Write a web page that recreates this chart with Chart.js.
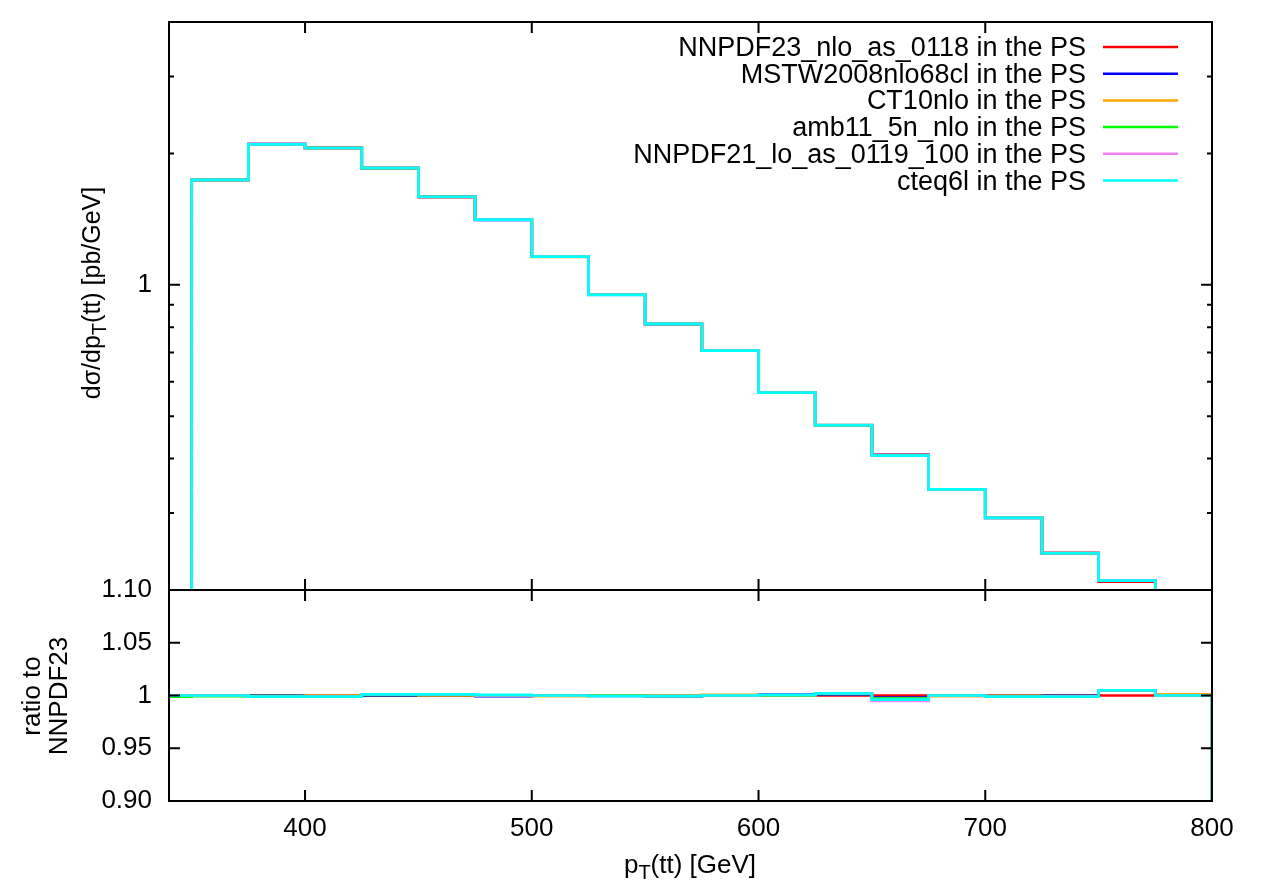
<!DOCTYPE html>
<html>
<head>
<meta charset="utf-8">
<script src="https://cdn.jsdelivr.net/npm/chart.js@4/dist/chart.umd.min.js"></script>
<style>
  html, body { margin: 0; padding: 0; background: #fff; }
  #wrap { position: relative; width: 1263px; height: 887px; }
  #wrap canvas { position: absolute; left: 0; top: 0; }
</style>
</head>
<body>
<div id="wrap">
  <canvas id="upper" width="1263" height="887"></canvas>
  <canvas id="lower" width="1263" height="887"></canvas>
</div>
<script>
// 25 GeV bins in pT(tt), low edges
const binLow = [325, 350, 375, 400, 425, 450, 475, 500, 525, 550, 575, 600, 625, 650, 675, 700, 725, 750, 775];
const binWidth = 25;

// reference cross section (NNPDF23 in the PS), pb/GeV
const xsecNNPDF23 = [0, 1.74, 2.10, 2.06, 1.85, 1.59, 1.41, 1.16, 0.949, 0.814, 0.707, 0.566, 0.476, 0.408, 0.340, 0.293, 0.243, 0.209, 0.17];

// ratio of each PDF set to NNPDF23
const ratioNNPDF23 = [1, 1, 1, 1, 1, 1, 1, 1, 1, 1, 1, 1, 1, 1, 1, 1, 1, 1, 1];
const ratioMSTW = [1.000, 1.000, 1.000, 0.9995, 1.000, 1.000, 0.9995, 1.000, 1.000, 0.999, 1.000, 1.001, 1.001, 0.998, 1.000, 0.999, 1.000, 1.005, 1.000];
const ratioCT10 = [1.000, 1.000, 0.9995, 1.000, 1.001, 1.000, 1.000, 0.9995, 1.000, 1.000, 1.0005, 1.000, 1.002, 0.997, 0.9995, 0.999, 0.9995, 1.005, 1.001];
const ratioAMB11 = [0.999, 0.9995, 0.9995, 0.999, 1.0005, 1.001, 1.000, 1.000, 1.000, 0.9995, 1.000, 1.000, 1.0015, 0.997, 1.000, 0.9995, 0.999, 1.005, 1.000];
const ratioNNPDF21 = [1.000, 1.000, 0.999, 0.999, 1.001, 1.001, 1.000, 1.000, 0.9995, 0.9995, 1.000, 1.0005, 1.002, 0.995, 1.000, 0.999, 0.999, 1.005, 1.000];
const ratioCTEQ6L = [1.000, 1.000, 0.999, 0.999, 1.001, 1.001, 1.0005, 1.000, 0.9995, 0.9995, 1.000, 1.0005, 1.002, 0.996, 1.000, 0.999, 0.999, 1.005, 1.000];

const seriesNames = [
  'NNPDF23_nlo_as_0118 in the PS',
  'MSTW2008nlo68cl in the PS',
  'CT10nlo in the PS',
  'amb11_5n_nlo in the PS',
  'NNPDF21_lo_as_0119_100 in the PS',
  'cteq6l in the PS'
];
const seriesRatios = [ratioNNPDF23, ratioMSTW, ratioCT10, ratioAMB11, ratioNNPDF21, ratioCTEQ6L];
const seriesColors = ['#ff0000', '#0000ff', '#ffa500', '#00ff00', '#ee82ee', '#00ffff'];

const xTicks = [400, 500, 600, 700, 800];
const upperYTicks = [0.2, 0.3, 0.4, 0.5, 0.6, 0.7, 0.8, 0.9, 1, 2, 3, 4];
const lowerYTicks = [0.90, 0.95, 1, 1.05, 1.10];
const lowerYLabels = ['0.90', '0.95', '1', '1.05', '1.10'];

Chart.defaults.font.family = "'Liberation Sans', Arial, Helvetica, sans-serif";
Chart.defaults.font.size = 26;
Chart.defaults.color = '#000';

// histogram outline: rises from the floor at the first filled bin, drops back after the last
function histPoints(values, floor) {
  const pts = [];
  values.forEach((v, i) => {
    if (v <= 0) return;
    if (!pts.length) pts.push({ x: binLow[i], y: floor });
    pts.push({ x: binLow[i], y: v });
  });
  const end = binLow[binLow.length - 1] + binWidth;
  pts.push({ x: end, y: values[values.length - 1] });
  pts.push({ x: end, y: floor });
  return pts;
}

function makeDatasets(valuesFor, floor) {
  return seriesNames.map((name, k) => ({
    label: name,
    data: histPoints(valuesFor(k), floor),
    borderColor: seriesColors[k],
    borderWidth: 2.7,
    pointRadius: 0,
    stepped: 'before',
    fill: false,
    order: seriesNames.length - k
  }));
}

// text with an optional subscript part, e.g. p_T
function drawRich(ctx, parts, x, y, size) {
  const big = size + 'px ' + Chart.defaults.font.family;
  const small = Math.round(size * 0.78) + 'px ' + Chart.defaults.font.family;
  let total = 0;
  parts.forEach(p => { ctx.font = p.sub ? small : big; total += ctx.measureText(p.t).width; });
  let cx = x - total / 2;
  ctx.textAlign = 'left';
  ctx.textBaseline = 'alphabetic';
  parts.forEach(p => {
    ctx.font = p.sub ? small : big;
    ctx.fillText(p.t, cx, p.sub ? y + 6 : y);
    cx += ctx.measureText(p.t).width;
  });
}

// inward ticks on all four sides plus the box
const framePlugin = {
  id: 'frame',
  afterDatasetsDraw(chart, args, opts) {
    const { ctx, chartArea: a, scales } = chart;
    ctx.save();
    ctx.strokeStyle = '#000';
    ctx.lineWidth = 2;
    ctx.beginPath();
    xTicks.forEach(v => {
      const px = scales.x.getPixelForValue(v);
      ctx.moveTo(px, a.top); ctx.lineTo(px, a.top + 11);
      ctx.moveTo(px, a.bottom); ctx.lineTo(px, a.bottom - 11);
    });
    scales.y.ticks.forEach(t => {
      const py = scales.y.getPixelForValue(t.value);
      const len = opts.major.includes(t.value) ? 11 : 5;
      ctx.moveTo(a.left, py); ctx.lineTo(a.left + len, py);
      ctx.moveTo(a.right, py); ctx.lineTo(a.right - len, py);
    });
    ctx.stroke();
    ctx.strokeRect(a.left, a.top, a.right - a.left, a.bottom - a.top);
    ctx.restore();
  }
};

// key in the top right corner: right-aligned names, line sample after them
const keyPlugin = {
  id: 'key',
  afterDraw(chart) {
    const ctx = chart.ctx;
    ctx.save();
    ctx.font = '27px ' + Chart.defaults.font.family;
    ctx.textAlign = 'right';
    ctx.textBaseline = 'alphabetic';
    ctx.fillStyle = '#000';
    chart.data.datasets.forEach((ds, i) => {
      const y = 47 + i * 26.7;
      ctx.fillText(ds.label, 1086, y + 9);
      ctx.strokeStyle = ds.borderColor;
      ctx.lineWidth = 2.5;
      ctx.beginPath();
      ctx.moveTo(1103, y);
      ctx.lineTo(1178, y);
      ctx.stroke();
    });
    ctx.restore();
  }
};

const upperTitle = {
  id: 'upperTitle',
  afterDraw(chart) {
    const ctx = chart.ctx;
    ctx.save();
    ctx.fillStyle = '#000';
    ctx.translate(100, 293);
    ctx.rotate(-Math.PI / 2);
    drawRich(ctx, [{ t: 'd\u03c3/dp' }, { t: 'T', sub: true }, { t: '(tt) [pb/GeV]' }], 0, 0, 25);
    ctx.restore();
  }
};

const lowerTitles = {
  id: 'lowerTitles',
  afterDraw(chart) {
    const ctx = chart.ctx;
    ctx.save();
    ctx.fillStyle = '#000';
    drawRich(ctx, [{ t: 'p' }, { t: 'T', sub: true }, { t: '(tt) [GeV]' }], 690, 873, 26);
    ctx.translate(0, 696);
    ctx.rotate(-Math.PI / 2);
    drawRich(ctx, [{ t: 'ratio to' }], 0, 40, 26);
    drawRich(ctx, [{ t: 'NNPDF23' }], 0, 67, 26);
    ctx.restore();
  }
};

// fixed axis width, no extra room for half-height end labels
const fixYAxis = s => { s.width = 169; s.paddingTop = 0; s.paddingBottom = 0; };

const common = {
  responsive: false,
  animation: false,
  events: [],
  plugins: { legend: { display: false }, tooltip: { enabled: false } }
};

new Chart(document.getElementById('upper'), {
  type: 'line',
  data: {
    datasets: makeDatasets(k => xsecNNPDF23.map((v, i) => v * seriesRatios[k][i]), 0.01)
  },
  options: {
    ...common,
    layout: { padding: { top: 22, right: 51, bottom: 297, left: 0 } },
    plugins: { ...common.plugins, frame: { major: [1] } },
    scales: {
      x: { type: 'linear', min: 340, max: 800, display: false },
      y: {
        type: 'logarithmic', min: 0.2, max: 4,
        afterBuildTicks: s => { s.ticks = upperYTicks.map(v => ({ value: v })); },
        afterFit: fixYAxis,
        grid: { display: false, drawTicks: false },
        border: { display: false },
        ticks: { autoSkip: false, padding: 17, callback: v => (v === 1 ? '1' : '') }
      }
    }
  },
  plugins: [framePlugin, keyPlugin, upperTitle]
});

new Chart(document.getElementById('lower'), {
  type: 'line',
  data: {
    datasets: makeDatasets(k => seriesRatios[k], 0.8)
  },
  options: {
    ...common,
    layout: { padding: { top: 590, right: 51, bottom: 0, left: 0 } },
    plugins: { ...common.plugins, frame: { major: lowerYTicks } },
    scales: {
      x: {
        type: 'linear', min: 340, max: 800,
        afterBuildTicks: s => { s.ticks = xTicks.map(v => ({ value: v })); },
        afterFit: s => { s.height = 86; s.paddingLeft = 0; s.paddingRight = 0; },
        grid: { display: false, drawTicks: false },
        border: { display: false },
        ticks: { autoSkip: false, maxRotation: 0, padding: 12, callback: v => String(v) }
      },
      y: {
        type: 'linear', min: 0.9, max: 1.1,
        afterBuildTicks: s => { s.ticks = lowerYTicks.map(v => ({ value: v })); },
        afterFit: fixYAxis,
        grid: { display: false, drawTicks: false },
        border: { display: false },
        ticks: { autoSkip: false, padding: 17, callback: (v, i) => lowerYLabels[i] }
      }
    }
  },
  plugins: [framePlugin, lowerTitles]
});
</script>
</body>
</html>
